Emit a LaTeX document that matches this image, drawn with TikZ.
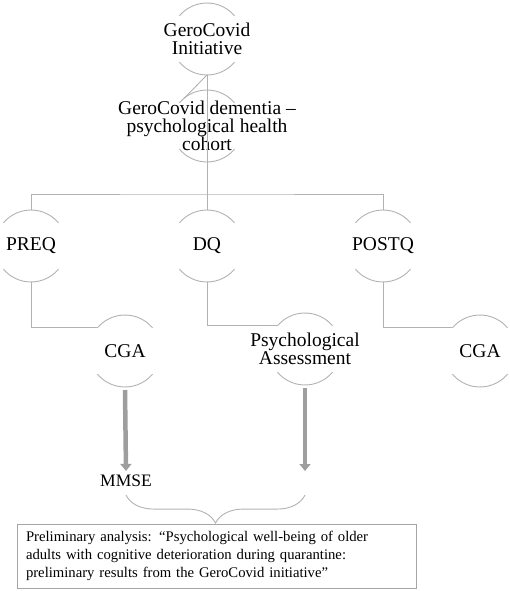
\documentclass[tikz,border=0pt]{standalone}
\usepackage{fontspec}
\setmainfont{Liberation Serif}
\usetikzlibrary{arrows.meta,positioning,calc,decorations.pathreplacing}

\definecolor{linegray}{RGB}{178,178,178}
\definecolor{arrowgray}{RGB}{158,158,158}
\definecolor{boxgray}{RGB}{165,165,165}

\begin{document}
\begin{tikzpicture}[
    x=1pt, y=1pt,
    ring/.style={inner sep=0pt, align=center, font=\fontsize{19.5}{18}\selectfont},
    ringline/.style={draw=linegray, line width=0.9pt},
    link/.style={draw=linegray, line width=0.9pt},
    fatarrow/.style={draw=arrowgray, line width=4.5pt, -{Triangle[width=11pt, length=7pt]}},
    summary/.style={rectangle, draw=boxgray, line width=1pt, minimum height=64pt, text width=381pt,
      inner xsep=9pt, inner ysep=0pt, align=left, font=\fontsize{14.7}{18.3}\selectfont}
  ]
    \useasboundingbox (0,0) rectangle (510,-591);

    % Ring nodes
    \node[ring] (init) at (207,-39) {GeroCovid\\Initiative};
    \node[ring] (cohort) at (207,-126) {GeroCovid dementia –\\psychological health\\cohort};
    \node[ring] (preq) at (31,-246) {PREQ};
    \node[ring] (dq) at (207,-246) {DQ};
    \node[ring] (postq) at (383,-246) {POSTQ};
    \node[ring] (cgapre) at (125,-351) {CGA};
    \node[ring] (psych) at (305,-349) {Psychological\\Assessment};
    \node[ring] (cgapost) at (480,-351) {CGA};

    % Upper and lower arcs of each ring
    \foreach \n in {init,cohort,preq,dq,postq,cgapre,psych,cgapost} {
      \draw[ringline] ([shift={(40:36)}]\n.center) arc[start angle=40, end angle=140, radius=36];
      \draw[ringline] ([shift={(-40:36)}]\n.center) arc[start angle=-40, end angle=-140, radius=36];
    }

    % Tree links
    \draw[link] ([yshift=-36pt]init.center) -- ([shift={(130:36)}]cohort.center);
    \draw[link] ([yshift=-36pt]init.center) -- ([yshift=36pt]dq.center);
    \draw[link] ([yshift=36pt]preq.center) |- ([yshift=52pt]dq.center) -| ([yshift=36pt]postq.center);
    \draw[link] ([yshift=-36pt]preq.center) |- ([shift={(140:36)}]cgapre.center);
    \draw[link] ([yshift=-36pt]dq.center) |- ([shift={(140:36)}]psych.center);
    \draw[link] ([yshift=-36pt]postq.center) |- ([shift={(140:36)}]cgapost.center);

    % Outcomes
    \node[inner sep=0pt, font=\fontsize{17.5}{18}\selectfont] (mmse) at (126,-481) {MMSE};
    \coordinate (psychend) at ([yshift=-122pt]psych.center);
    \draw[fatarrow] ([yshift=-39pt]cgapre.center) -- ([yshift=4pt]mmse.north);
    \draw[fatarrow] ([yshift=-39pt]psych.center) -- (psychend);

    % Brace and summary box
    \coordinate (braceL) at ([yshift=-8pt]mmse.south);
    \coordinate (braceR) at (braceL -| psychend);
    \draw[link, decorate, decoration={brace, mirror, amplitude=28pt}] (braceL) -- (braceR);
    \node[summary] (prelim) at (216.5,-556) {Preliminary analysis: “Psychological well-being of older\\adults with cognitive deterioration during quarantine:\\preliminary results from the GeroCovid initiative”};
  \end{tikzpicture}
\end{document}
